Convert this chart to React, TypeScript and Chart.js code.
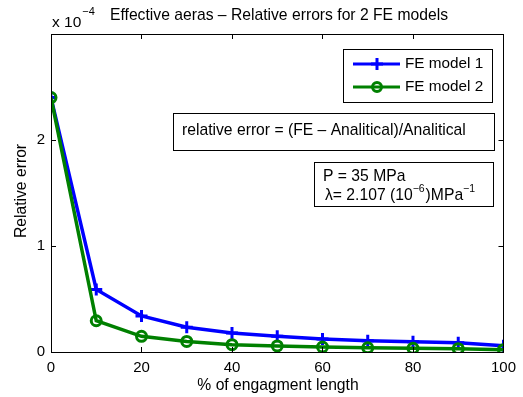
import React, { useEffect, useRef } from "react";
import { Chart, registerables } from "chart.js";

Chart.register(...registerables);

const xValues = [0, 10, 20, 30, 40, 50, 60, 70, 80, 90, 100];
const model1 = [2.4, 0.59, 0.34, 0.233, 0.18, 0.148, 0.123, 0.107, 0.097, 0.088, 0.06];
const model2 = [2.4, 0.295, 0.148, 0.1, 0.069, 0.057, 0.047, 0.04, 0.035, 0.031, 0.022];
const seriesLabels = ["FE model 1", "FE model 2"];
const seriesColors = ["#0000ff", "#008000"];
const yScaleFactor = 1e-4;
const titleText = "Effective aeras \u2013 Relative errors for 2 FE models";
const xLabel = "% of engagment length";
const yLabel = "Relative error";
const note1 = "relative error = (FE \u2013 Analitical)/Analitical";
const note2 = "P = 35 MPa";

const FONT = "'Liberation Sans', Arial, Helvetica, sans-serif";

function drawMarker(ctx: CanvasRenderingContext2D, kind: string, x: number, y: number, color: string) {
  ctx.save();
  ctx.strokeStyle = color;
  ctx.lineWidth = 3;
  ctx.beginPath();
  if (kind === "cross") {
    ctx.moveTo(x - 6, y);
    ctx.lineTo(x + 6, y);
    ctx.moveTo(x, y - 6);
    ctx.lineTo(x, y + 6);
  } else {
    ctx.arc(x, y, 4.5, 0, Math.PI * 2);
  }
  ctx.stroke();
  ctx.restore();
}

const decorPlugin = {
  id: "decor",
  afterDraw(chart: any) {
    const ctx: CanvasRenderingContext2D = chart.ctx;
    const { left, right, top, bottom } = chart.chartArea;
    const xs = chart.scales.x;
    const ys = chart.scales.y;
    ctx.save();
    // frame
    ctx.strokeStyle = "#000";
    ctx.lineWidth = 1;
    ctx.strokeRect(Math.round(left) + 0.5, Math.round(top) + 0.5, Math.round(right - left), Math.round(bottom - top));
    // inward ticks
    ctx.beginPath();
    xs.ticks.forEach((t: any) => {
      const px = Math.round(xs.getPixelForValue(t.value)) + 0.5;
      ctx.moveTo(px, bottom);
      ctx.lineTo(px, bottom - 5);
      ctx.moveTo(px, top);
      ctx.lineTo(px, top + 5);
    });
    ys.ticks.forEach((t: any) => {
      const py = Math.round(ys.getPixelForValue(t.value)) + 0.5;
      ctx.moveTo(left, py);
      ctx.lineTo(left + 5, py);
      ctx.moveTo(right, py);
      ctx.lineTo(right - 5, py);
    });
    ctx.stroke();

    ctx.fillStyle = "#000";
    ctx.textBaseline = "middle";
    // title
    ctx.font = `15.7px ${FONT}`;
    ctx.textAlign = "center";
    ctx.fillText(titleText, 279, 16);
    // exponent label
    ctx.textAlign = "left";
    ctx.font = `15.5px ${FONT}`;
    ctx.fillText("x 10", 52, 22.5);
    const w10 = ctx.measureText("x 10").width;
    ctx.font = `11px ${FONT}`;
    ctx.fillText("\u22124", 52 + w10 + 1, 12);
    // axis titles
    ctx.font = `15.7px ${FONT}`;
    ctx.textAlign = "center";
    ctx.fillText(xLabel, 278, 386);
    ctx.save();
    ctx.translate(22, 191);
    ctx.rotate(-Math.PI / 2);
    ctx.fillText(yLabel, 0, 0);
    ctx.restore();

    // legend
    ctx.fillStyle = "#fff";
    ctx.fillRect(343.5, 49.5, 149, 53);
    ctx.strokeStyle = "#000";
    ctx.lineWidth = 1;
    ctx.strokeRect(343.5, 49.5, 149, 53);
    const legendY = [64, 87];
    const kinds = ["cross", "circle"];
    seriesLabels.forEach((lab, i) => {
      const y = legendY[i];
      ctx.strokeStyle = seriesColors[i];
      ctx.lineWidth = 3;
      ctx.beginPath();
      ctx.moveTo(353, y);
      ctx.lineTo(400, y);
      ctx.stroke();
      drawMarker(ctx, kinds[i], 377, y, seriesColors[i]);
      ctx.fillStyle = "#000";
      ctx.font = `15.3px ${FONT}`;
      ctx.textAlign = "left";
      ctx.fillText(lab, 405, y);
    });

    // note box 1
    ctx.fillStyle = "#fff";
    ctx.fillRect(173.5, 113.5, 321, 37);
    ctx.strokeStyle = "#000";
    ctx.lineWidth = 1;
    ctx.strokeRect(173.5, 113.5, 321, 37);
    ctx.fillStyle = "#000";
    ctx.font = `15.7px ${FONT}`;
    ctx.textAlign = "left";
    ctx.fillText(note1, 182, 131);

    // note box 2
    ctx.fillStyle = "#fff";
    ctx.fillRect(314.5, 162.5, 179, 44);
    ctx.strokeRect(314.5, 162.5, 179, 44);
    ctx.fillStyle = "#000";
    ctx.fillText(note2, 323, 177);
    let x = 325;
    const yl = 196;
    const parts: [string, boolean][] = [
      ["\u03bb= 2.107 (10", false],
      ["\u22126", true],
      [")MPa", false],
      ["\u22121", true],
    ];
    parts.forEach(([s, sup]) => {
      ctx.font = sup ? `10.5px ${FONT}` : `15.7px ${FONT}`;
      ctx.fillText(s, x, sup ? yl - 7 : yl);
      x += ctx.measureText(s).width + (sup ? 1 : 0);
    });
    ctx.restore();
  },
};

export default function App() {
  const ref = useRef<HTMLCanvasElement | null>(null);
  useEffect(() => {
    document.body.style.margin = "0";
    const canvas = ref.current!;
    const chart = new Chart(canvas, {
      type: "line",
      data: {
        datasets: [
          {
            label: seriesLabels[0],
            data: xValues.map((x, i) => ({ x, y: model1[i] * yScaleFactor })),
            borderColor: seriesColors[0],
            backgroundColor: "rgba(0,0,0,0)",
            borderWidth: 3.5,
            pointStyle: "cross",
            pointRadius: 6,
            pointBorderWidth: 3,
            pointBorderColor: seriesColors[0],
            order: 2,
          },
          {
            label: seriesLabels[1],
            data: xValues.map((x, i) => ({ x, y: model2[i] * yScaleFactor })),
            borderColor: seriesColors[1],
            backgroundColor: "rgba(0,0,0,0)",
            borderWidth: 3.5,
            pointStyle: "circle",
            pointRadius: 5,
            pointBorderWidth: 3,
            pointBorderColor: seriesColors[1],
            pointBackgroundColor: "rgba(0,0,0,0)",
            order: 1,
          },
        ],
      },
      options: {
        responsive: false,
        animation: false,
        devicePixelRatio: 1,
        layout: { padding: { top: 34, right: 16, left: 0, bottom: 0 } },
        plugins: {
          legend: { display: false },
          tooltip: { enabled: false },
          title: { display: false },
        },
        scales: {
          x: {
            type: "linear",
            min: 0,
            max: 100,
            grid: { display: false, drawTicks: false },
            border: { display: false },
            ticks: {
              stepSize: 20,
              padding: 7,
              color: "#000",
              font: { family: FONT, size: 15 },
              maxRotation: 0,
            },
            afterFit: (s: any) => {
              s.height = 45;
            },
          },
          y: {
            type: "linear",
            min: 0,
            max: 3 * yScaleFactor,
            grid: { display: false, drawTicks: false },
            border: { display: false },
            ticks: {
              stepSize: yScaleFactor,
              padding: 6,
              color: "#000",
              font: { family: FONT, size: 15 },
              callback: (v: any) => {
                const n = Math.round(Number(v) / yScaleFactor);
                return n >= 3 ? "" : String(n);
              },
            },
            afterFit: (s: any) => {
              s.width = 51;
            },
          },
        },
      },
      plugins: [decorPlugin],
    } as any);
    return () => chart.destroy();
  }, []);
  return (
    <div style={{ position: "absolute", left: 0, top: 0, width: 523, height: 397, background: "#fff" }}>
      <canvas ref={ref} width={523} height={397} style={{ display: "block" }} />
    </div>
  );
}
